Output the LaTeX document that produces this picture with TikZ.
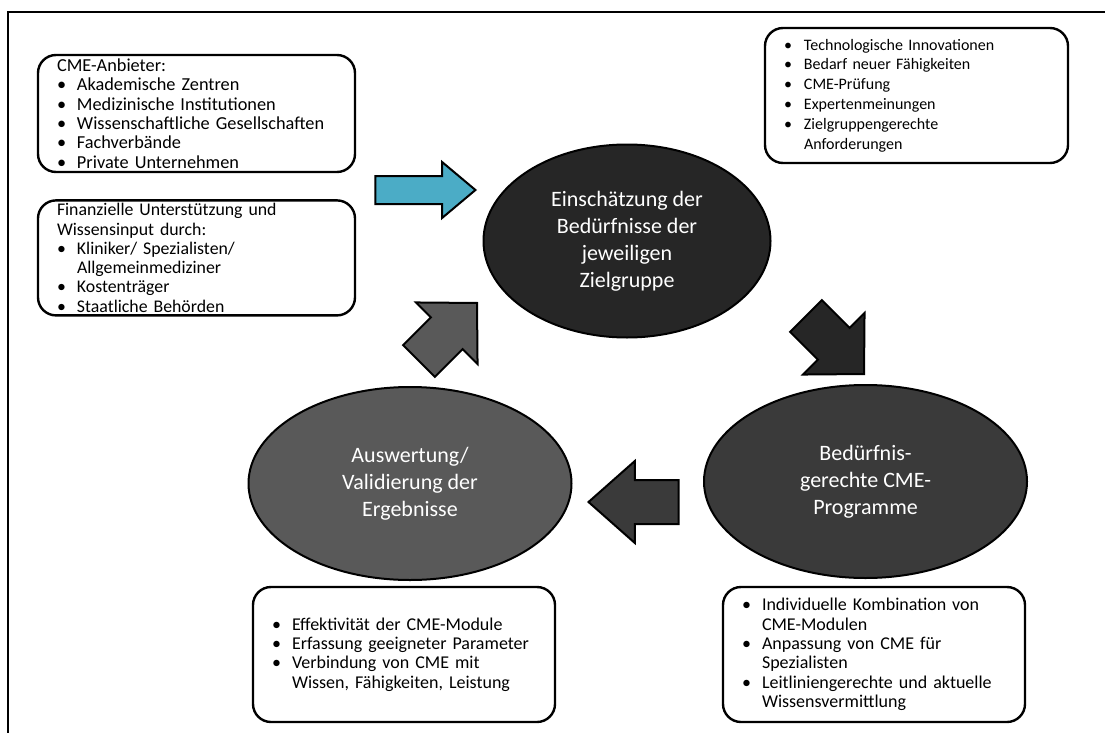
\documentclass[tikz,border=0pt]{standalone}
\usepackage{fontspec}
\setmainfont{Carlito}
\usepackage{tikz}
\usetikzlibrary{positioning,shapes.geometric,shapes.arrows}
\definecolor{darkfill}{HTML}{262626}
\definecolor{midfill}{HTML}{3A3A3A}
\definecolor{greyfill}{HTML}{595959}
\definecolor{bluefill}{HTML}{4BACC6}
\newcommand{\bitem}{\makebox[20pt][l]{\textbullet}}
\newcommand{\bcont}{\hspace*{20pt}}

\begin{document}
\begin{tikzpicture}[x=1pt, y=-1pt, every node/.style={font=\fontsize{18}{19.4}\selectfont}, infobox/.style={draw, line width=2.4pt, rounded corners=18pt, inner xsep=19pt, inner ysep=0pt, align=left}, phase/.style={ellipse, draw, line width=2pt, inner sep=0pt, minimum width=323pt, minimum height=193pt, align=center, text=white, font=\fontsize{22}{27}\selectfont}, blockarr/.style={single arrow, draw, line width=2pt, inner xsep=0pt, anchor=tip}, diagarr/.style={blockarr, minimum height=82pt, inner ysep=21.5pt, single arrow head extend=21pt, single arrow tip angle=91}]
\useasboundingbox (0,0) rectangle (1105,733);
\draw[line width=1.8pt] (1105,12) -- (8,12) -- (8,733);
% cycle
\node[phase, fill=darkfill, minimum width=287pt] (need) at (627,241) {Einschätzung der\\ Bedürfnisse der\\ jeweiligen\\ Zielgruppe};
\node[phase, fill=midfill] (prog) at (865.5,481.5) {Bedürfnis-\\ gerechte CME-\\ Programme};
\node[phase, fill=greyfill] (eval) at (410,483.5) {Auswertung/\\ Validierung der\\ Ergebnisse};
\node[diagarr, fill=darkfill, rotate=-45] (a1) at (865,375) {};
\node[blockarr, fill=midfill, rotate=180, minimum height=90pt, inner ysep=21pt, single arrow head extend=19pt, single arrow tip angle=83] (a2) at (587,502) {};
\node[diagarr, fill=greyfill, rotate=45] (a3) at (478,302) {};
\node[blockarr, fill=bluefill, minimum height=100pt, inner ysep=13pt, single arrow head extend=14pt, single arrow tip angle=80] (a0) at (477,190) {};
% text boxes
\node[infobox, text width=279pt, minimum height=117pt, font=\fontsize{18.3}{19.3}\selectfont] (provider) at (196.5,113.5) {CME-Anbieter:\\ \bitem Akademische Zentren\\ \bitem Medizinische Institutionen\\ \bitem Wissenschaftliche Gesellschaften\\ \bitem Fachverbände\\ \bitem Private Unternehmen};
\node[infobox, text width=279pt, minimum height=115pt, below=26pt of provider, font=\fontsize{17.8}{19.3}\selectfont] (support) {Finanzielle Unterstützung und\\ Wissensinput durch:\\ \bitem Kliniker/ Spezialisten/\\ \bcont Allgemeinmediziner\\ \bitem Kostenträger\\ \bitem Staatliche Behörden};
\node[infobox, text width=265pt, minimum height=135pt, font=\fontsize{16}{19.8}\selectfont] (driver) at (916.5,95.5) {\bitem Technologische Innovationen\\ \bitem Bedarf neuer Fähigkeiten\\ \bitem CME-Prüfung\\ \bitem Expertenmeinungen\\ \bitem Zielgruppengerechte\\ \bcont Anforderungen};
\node[infobox, text width=264pt, minimum height=135pt] (result) at (404,654.5) {\bitem Effektivität der CME-Module\\ \bitem Erfassung geeigneter Parameter\\ \bitem Verbindung von CME mit\\ \bcont Wissen, Fähigkeiten, Leistung};
\node[infobox, text width=264pt, minimum height=135pt] (module) at (874,654.5) {\bitem Individuelle Kombination von\\ \bcont CME-Modulen\\ \bitem Anpassung von CME für\\ \bcont Spezialisten\\ \bitem Leitliniengerechte und aktuelle\\ \bcont Wissensvermittlung};
\end{tikzpicture}
\end{document}
